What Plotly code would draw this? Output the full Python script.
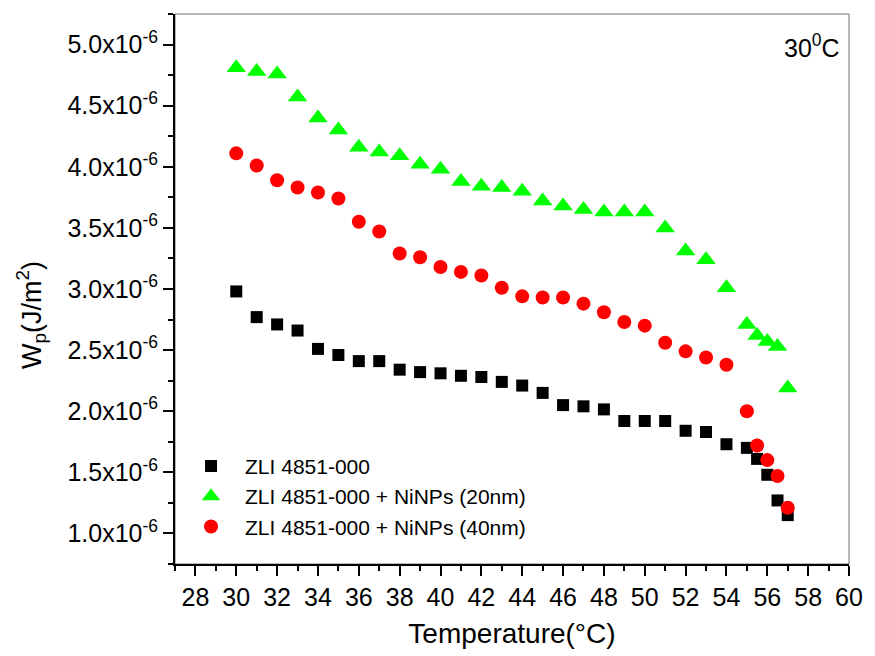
import plotly.graph_objects as go

# Temperatures (°C)
temp = [30, 31, 32, 33, 34, 35, 36, 37, 38, 39, 40, 41, 42, 43, 44, 45, 46, 47,
        48, 49, 50, 51, 52, 53, 54, 55, 55.5, 56, 56.5, 57]

# Anchoring energy W_p (x1e-6 J/m^2)
wp_pure = [2.98, 2.77, 2.71, 2.66, 2.51, 2.46, 2.41, 2.41, 2.34, 2.32, 2.31, 2.29,
           2.28, 2.24, 2.21, 2.15, 2.05, 2.04, 2.015, 1.92, 1.92, 1.92, 1.84, 1.83,
           1.73, 1.70, 1.61, 1.48, 1.27, 1.15]
wp_20nm = [4.81, 4.78, 4.76, 4.57, 4.40, 4.30, 4.16, 4.12, 4.09, 4.02, 3.98, 3.88,
           3.84, 3.83, 3.80, 3.72, 3.68, 3.65, 3.63, 3.63, 3.63, 3.50, 3.31, 3.24,
           3.01, 2.71, 2.62, 2.57, 2.53, 2.19]
wp_40nm = [4.11, 4.01, 3.89, 3.83, 3.79, 3.74, 3.55, 3.47, 3.29, 3.26, 3.18, 3.14,
           3.11, 3.01, 2.94, 2.93, 2.93, 2.88, 2.81, 2.73, 2.70, 2.56, 2.49, 2.44,
           2.38, 2.00, 1.72, 1.60, 1.47, 1.21]

series_names = ["ZLI 4851-000", "ZLI 4851-000 + NiNPs (20nm)", "ZLI 4851-000 + NiNPs (40nm)"]

x_ticks = list(range(28, 61, 2))
y_ticks = [1.0, 1.5, 2.0, 2.5, 3.0, 3.5, 4.0, 4.5, 5.0]
y_ticktext = [f"{v:.1f}x10<sup>-6</sup>" for v in y_ticks]
y_minor = [0.75, 1.25, 1.75, 2.25, 2.75, 3.25, 3.75, 4.25, 4.75, 5.25]

scale = 1e-6
FONT = "Liberation Sans, Arial"

fig = go.Figure()
fig.add_trace(go.Scatter(
    x=temp, y=[v * scale for v in wp_pure], mode="markers", name=series_names[0],
    marker=dict(symbol="square", size=12, color="#000000", line=dict(width=0))))
fig.add_trace(go.Scatter(
    x=temp, y=[v * scale for v in wp_20nm], mode="markers", name=series_names[1],
    marker=dict(symbol="triangle-up", size=17, color="#00ff00", line=dict(width=0))))
fig.add_trace(go.Scatter(
    x=temp, y=[v * scale for v in wp_40nm], mode="markers", name=series_names[2],
    marker=dict(symbol="circle", size=14, color="#ff0000", line=dict(width=0))))

# grey frame on top/right
fig.add_shape(type="rect", xref="paper", yref="paper", x0=0, y0=0, x1=1, y1=1,
              line=dict(color="#6e6e6e", width=1), layer="below")

fig.add_annotation(xref="paper", yref="paper", x=0.99, y=0.975, xanchor="right",
                   yanchor="top", showarrow=False,
                   text="30<sup>0</sup>C",
                   font=dict(family=FONT, size=25, color="#000"))

# y-axis title
fig.add_annotation(xref="paper", yref="paper", x=-0.2126, y=0.452,
                   xanchor="center", yanchor="middle", showarrow=False,
                   textangle=-90, text="W<sub>p</sub>(J/m<sup>2</sup>)",
                   font=dict(family=FONT, size=27, color="#000"))

fig.update_layout(
    width=875, height=656,
    margin=dict(l=175, r=18, t=14, b=91),
    paper_bgcolor="white", plot_bgcolor="white",
    font=dict(family=FONT, color="#000"),
    showlegend=True,
    legend=dict(x=0.003, y=0.215, xanchor="left", yanchor="top",
                bgcolor="rgba(0,0,0,0)", font=dict(size=21),
                itemwidth=58, tracegroupgap=0, traceorder="normal"),
    xaxis=dict(range=[27, 60], tickvals=x_ticks, ticks="outside", ticklen=10,
               tickwidth=2, tickcolor="#000", showline=True, linecolor="#000",
               linewidth=2, showgrid=False, zeroline=False,
               minor=dict(dtick=1, ticks="outside", ticklen=5, tickwidth=2,
                          tickcolor="#000", showgrid=False),
               tickfont=dict(size=25),
               title=dict(text="Temperature(°C)", standoff=13,
                          font=dict(size=28))),
    yaxis=dict(range=[0.75e-6, 5.25e-6], tickvals=[v * scale for v in y_ticks],
               ticktext=y_ticktext, ticks="outside", ticklen=10, tickwidth=2,
               tickcolor="#000", showline=True, linecolor="#000", linewidth=2,
               showgrid=False, zeroline=False,
               minor=dict(tickvals=[v * scale for v in y_minor],
                          ticks="outside", ticklen=5, tickwidth=2, tickcolor="#000",
                          showgrid=False),
               tickfont=dict(size=25)),
)

fig.write_html("out.html")
